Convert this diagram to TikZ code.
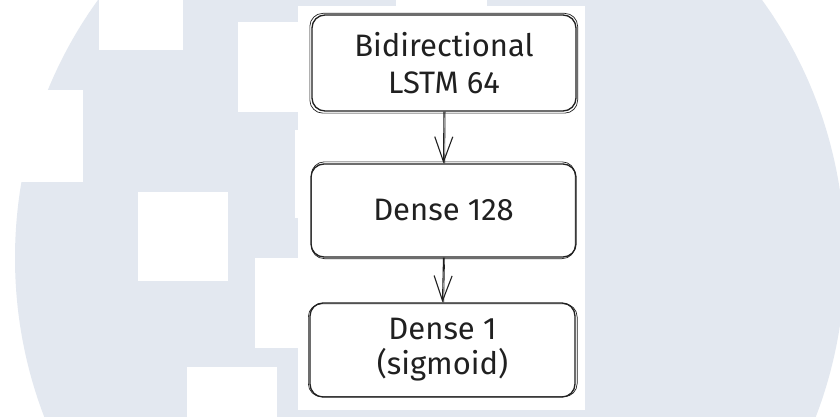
\documentclass[tikz,border=0pt]{standalone}
\usepackage{fontspec}
\setmainfont{Fira Sans}
\usetikzlibrary{arrows.meta}
\definecolor{wm}{RGB}{227,232,240}
\definecolor{ink}{RGB}{32,32,32}
\begin{document}
\begin{tikzpicture}[x=1pt,y=-1pt,
  layer/.style={draw=ink, line width=1.3pt, rounded corners=13pt, inner sep=0pt,
    font=\fontsize{31}{37}\selectfont, text=ink, align=center},
  sketch/.style={draw=ink, line width=0.7pt, rounded corners=13pt},
  flow/.style={draw=ink, line width=1.1pt, -{Straight Barb[length=25pt,width=18pt,line width=1.1pt]}}
]
\useasboundingbox (0,0) rectangle (840,417);
\fill[white] (0,0) rectangle (840,417);
% watermark
\begin{scope}
\clip (0,0) rectangle (840,417);
\fill[wm] (430,258) ellipse [x radius=415pt, y radius=430pt];
\end{scope}
\fill[white] (99,0) rectangle (183,50);
\fill[white] (0,90) rectangle (83,182);
\fill[white] (138,192) rectangle (228,281);
\fill[white] (238,22) rectangle (328,112);
\fill[white] (295,130) rectangle (385,218);
\fill[white] (255,258) rectangle (345,348);
\fill[white] (187,367) rectangle (277,417);
\fill[white] (396,0) rectangle (487,20);
% main panel
\fill[white] (298,6) rectangle (585,410);
% boxes
\node[layer, minimum width=264pt, minimum height=96pt] (b1) at (444,63) {Bidirectional\\LSTM 64};
\node[layer, minimum width=265pt, minimum height=93pt] (b2) at (443.5,210.5) {Dense 128};
\node[layer, minimum width=265pt, minimum height=94pt, font=\fontsize{31}{35}\selectfont] (b3) at (442.5,350) {Dense 1\\(sigmoid)};
\draw[sketch] ([shift={(-1.5,-1)}]b1.north west) rectangle ([shift={(1,1.5)}]b1.south east);
\draw[sketch] ([shift={(1,-1.5)}]b2.north west) rectangle ([shift={(-1.5,1)}]b2.south east);
\draw[sketch] ([shift={(-1,1.5)}]b3.north west) rectangle ([shift={(1.5,-1)}]b3.south east);
% connectors
\draw[flow] (b1.south) -- (b2.north);
\draw[draw=ink, line width=0.6pt] ([xshift=1.2pt]b1.south) -- ([xshift=1.2pt]b2.north);
\draw[flow] (b2.south) -- (b3.north);
\draw[draw=ink, line width=0.6pt] ([xshift=1.2pt]b2.south) -- ([xshift=1.2pt]b3.north);
\end{tikzpicture}
\end{document}
